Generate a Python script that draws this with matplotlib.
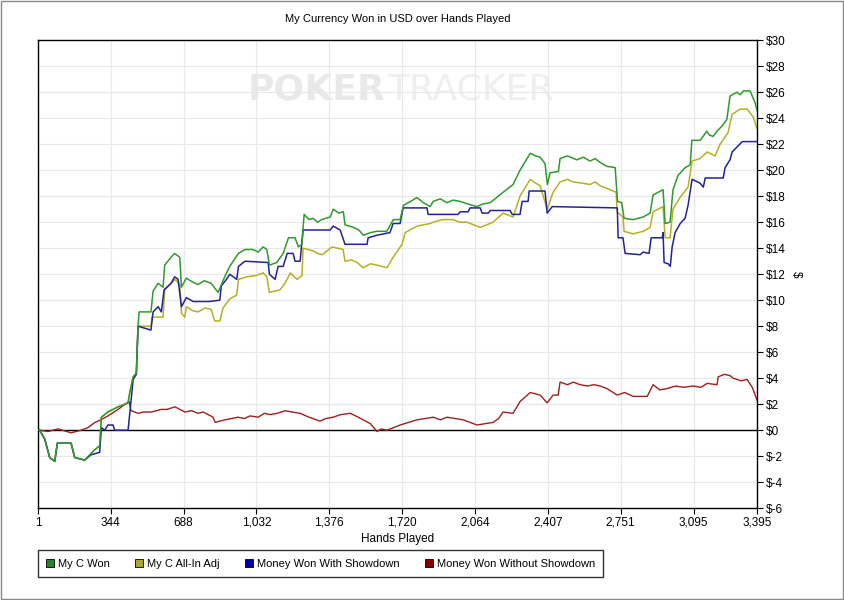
import matplotlib
matplotlib.use("Agg")
import matplotlib.pyplot as plt
from matplotlib.patches import Patch, Rectangle
from matplotlib.ticker import FuncFormatter

# hands / dollars
won_x = [1, 9, 33, 56, 80, 92, 157, 174, 221, 269, 292, 300, 331, 379, 426, 434, 450, 465, 473, 478,
         534, 544, 568, 591, 599, 629, 646, 670, 678, 701, 730, 756, 785, 818, 851, 882, 906, 947, 978, 1016,
         1040, 1063, 1081, 1093, 1128, 1158, 1183, 1214, 1230, 1246, 1257, 1280, 1299, 1320, 1340, 1380, 1395, 1420, 1442,
         1450, 1490, 1515, 1537, 1570, 1600, 1647, 1678, 1710, 1726, 1760, 1789, 1820, 1852, 1866, 1900, 1930, 1960,
         1993, 2030, 2072, 2100, 2135,
         2196, 2243, 2276, 2324, 2350, 2371, 2394, 2405, 2418, 2457, 2465, 2500, 2544, 2575, 2607, 2630, 2654, 2685, 2725,
         2736, 2756, 2767, 2810, 2857, 2890, 2904, 2928, 2951, 2961, 2984, 2998, 3022, 3055, 3079,
         3087, 3126, 3140, 3157, 3170, 3187, 3211, 3230, 3252, 3267, 3299, 3315, 3330, 3362, 3385, 3395]
won_y = [0.0, 0.0, -0.7, -2.1, -2.4, -1.0, -1.0, -2.1, -2.3, -1.5, -1.2, 1.0, 1.4, 1.8, 2.1, 2.9, 4.1, 4.4, 8.0, 9.1,
         9.1, 10.7, 11.3, 11.0, 12.7, 13.3, 13.6, 13.3, 11.0, 11.7, 11.4, 11.2, 11.5, 11.3, 10.6, 11.8, 12.6, 13.6, 13.9, 13.9,
         13.7, 14.1, 13.9, 12.7, 12.9, 13.6, 14.8, 14.8, 14.1, 14.3, 16.6, 16.2, 16.3, 16.0, 16.2, 16.4, 17.0, 16.7, 16.8,
         15.8, 15.6, 15.4, 15.0, 15.2, 15.3, 15.3, 16.2, 16.2, 17.3, 17.6, 17.9, 17.5, 17.2, 17.6, 17.8, 17.5, 17.7,
         17.6, 17.4, 17.2, 17.4, 17.5,
         18.3, 18.9, 20.0, 21.3, 21.1, 21.0, 20.5, 18.9, 19.8, 19.9, 20.9, 21.1, 20.8, 21.0, 20.7, 20.9, 20.6, 20.3, 20.2,
         17.6, 17.5, 16.3, 16.2, 16.4, 16.7, 18.1, 18.3, 18.5, 15.9, 16.0, 18.5, 19.6, 20.2, 20.4,
         22.3, 22.3, 22.6, 23.0, 22.7, 22.6, 23.1, 23.4, 23.9, 25.7, 26.0, 25.8, 26.1, 26.1, 25.2, 24.6]

allin_x = [1, 9, 33, 56, 80, 92, 157, 174, 221, 269, 292, 300, 331, 379, 426, 434, 450, 465, 473, 534,
           539, 591, 599, 648, 670, 678, 694, 701, 730, 756, 790, 818, 835, 859, 874, 906, 939, 947, 986, 1030, 1063,
           1081, 1093, 1143, 1167, 1191, 1224, 1247, 1252, 1299, 1320, 1342, 1389, 1441, 1450, 1480, 1507, 1535,
           1570, 1601, 1648, 1677, 1719, 1734, 1790, 1852, 1866, 1910, 1960, 1990, 2026, 2088, 2149, 2196, 2243, 2276,
           2324, 2350, 2371, 2404, 2432, 2465, 2500, 2527, 2570, 2607, 2630, 2654, 2701, 2730, 2734, 2762, 2767, 2810, 2857,
           2890, 2904, 2951, 2961, 2984, 2998, 3031, 3069, 3088, 3126, 3159, 3197, 3220, 3258, 3277,
           3315, 3348, 3376, 3395]
allin_y = [0.0, 0.0, -0.7, -2.1, -2.4, -1.0, -1.0, -2.1, -2.3, -1.5, -1.2, 1.0, 1.4, 1.8, 2.1, 2.9, 4.1, 4.4, 8.0, 8.0,
           8.7, 8.7, 10.8, 11.6, 11.2, 9.0, 8.7, 9.5, 9.2, 9.1, 9.4, 9.3, 8.4, 8.4, 9.4, 10.1, 10.4, 11.6, 11.8, 11.9, 12.1,
           11.8, 10.6, 10.8, 11.3, 12.1, 11.6, 11.9, 14.0, 13.8, 13.6, 13.5, 14.1, 13.9, 13.0, 13.1, 12.9, 12.5,
           12.8, 12.7, 12.5, 13.3, 14.3, 15.2, 15.7, 15.9, 16.0, 16.2, 16.2, 16.0, 16.0, 15.6, 16.0, 16.7, 16.4, 18.0,
           19.3, 19.0, 18.8, 17.0, 18.3, 19.1, 19.3, 19.1, 19.0, 18.9, 19.1, 18.8, 18.5, 18.3, 16.8, 16.4, 15.3, 15.1, 15.3,
           15.6, 16.8, 17.2, 14.8, 14.8, 17.0, 17.9, 18.7, 20.7, 20.9, 21.4, 21.1, 22.0, 22.9, 24.3,
           24.7, 24.7, 24.1, 23.2]

sd_x = [1, 9, 33, 56, 80, 92, 157, 174, 221, 250, 292, 300, 316, 331, 355, 363, 426, 439, 450, 465,
        473, 534, 544, 568, 583, 596, 629, 646, 662, 678, 701, 733, 808, 859, 866, 890, 906, 939,
        947, 978, 1087, 1093, 1120, 1134, 1158, 1177, 1205, 1214, 1238, 1252, 1380, 1394, 1427,
        1450, 1554, 1559, 1601, 1662, 1677, 1710, 1724, 1837, 1842, 1984, 1993, 2031, 2040, 2088,
        2097, 2126, 2135, 2229, 2239, 2276, 2286, 2314, 2319, 2394, 2404, 2428, 2735, 2739, 2762,
        2772, 2843, 2857, 2885, 2895, 2947, 2951, 2956, 2975, 2985, 2994, 3008, 3032, 3055, 3069,
        3088, 3126, 3141, 3150, 3235, 3244, 3267, 3277, 3301, 3325, 3395]
sd_y = [0.0, 0.0, -0.7, -2.1, -2.4, -1.0, -1.0, -2.1, -2.3, -1.9, -1.7, 0.2, 0.0, 0.4, 0.4, 0.0, 0.0, 2.1, 3.9, 4.3,
        8.0, 7.7, 9.1, 9.5, 9.1, 10.8, 11.3, 11.8, 11.6, 9.5, 10.2, 9.9, 9.9, 10.0, 11.1, 11.6, 12.0, 11.6,
        12.6, 13.0, 12.9, 12.0, 11.6, 12.6, 12.6, 13.6, 13.6, 13.0, 13.0, 15.4, 15.4, 15.7, 15.4,
        14.3, 14.3, 14.8, 15.0, 15.2, 15.9, 15.9, 17.1, 17.1, 16.6, 16.6, 16.8, 16.8, 17.1, 17.1,
        16.7, 16.7, 16.9, 16.9, 16.6, 16.6, 17.6, 17.6, 18.4, 18.4, 16.7, 17.2, 17.1, 14.8, 14.8,
        13.6, 13.5, 13.7, 13.6, 14.8, 14.8, 15.2, 12.9, 12.8, 12.6, 14.1, 15.2, 15.9, 16.3, 17.3,
        19.3, 19.0, 18.7, 19.4, 19.4, 20.2, 20.8, 21.4, 21.8, 22.2, 22.2]

nsd_x = [1, 9, 48, 95, 157, 204, 237, 270, 298, 331, 379, 412, 431, 440, 473, 500, 534, 560, 582, 610,
         629, 648, 670, 695, 725, 756, 780, 804, 827, 837, 860, 884, 915, 945, 975, 1002, 1040, 1070,
         1096, 1130, 1167, 1200, 1238, 1280, 1332, 1360, 1394, 1430, 1474, 1500, 1535, 1570, 1601,
         1620, 1648, 1680, 1710, 1750, 1790, 1830, 1866, 1900, 1932, 1970, 2007, 2040, 2073, 2110,
         2149, 2175, 2196, 2243, 2276, 2324, 2371, 2404, 2432, 2456, 2465, 2500, 2527, 2560, 2593,
         2625, 2654, 2687, 2734, 2770, 2810, 2876, 2904, 2935, 2970, 3010, 3046, 3093, 3130, 3159,
         3206, 3211, 3240, 3267, 3282, 3320, 3348, 3372, 3395]
nsd_y = [0.0, 0.0, -0.1, 0.1, -0.2, 0.0, 0.2, 0.6, 0.8, 1.1, 1.6, 2.0, 2.2, 1.5, 1.3, 1.4, 1.4, 1.5, 1.6, 1.6,
         1.7, 1.8, 1.6, 1.4, 1.5, 1.3, 1.4, 1.2, 1.0, 0.6, 0.7, 0.8, 0.9, 1.0, 0.9, 1.1, 1.0, 1.3,
         1.2, 1.3, 1.5, 1.4, 1.3, 1.0, 0.7, 0.9, 1.0, 1.2, 1.3, 1.1, 0.8, 0.5, -0.1,
         0.1, 0.0, 0.2, 0.4, 0.6, 0.8, 0.9, 1.0, 0.8, 1.0, 0.9, 0.8, 0.6, 0.4, 0.5,
         0.6, 0.9, 1.4, 1.3, 2.2, 2.9, 2.7, 2.1, 2.7, 2.7, 3.7, 3.5, 3.7, 3.5, 3.4,
         3.5, 3.4, 3.2, 2.7, 2.9, 2.6, 2.6, 3.5, 3.1, 3.2, 3.4, 3.3, 3.4, 3.3, 3.6,
         3.5, 4.1, 4.3, 4.2, 4.0, 3.8, 3.9, 3.3, 2.3]

x_ticks = [1, 344, 688, 1032, 1376, 1720, 2064, 2407, 2751, 3095, 3395]
y_ticks = list(range(-6, 31, 2))

plt.rcParams['font.family'] = ['Liberation Sans', 'DejaVu Sans']
fig = plt.figure(figsize=(8.45, 6.0), dpi=100)
fig.patches.append(Rectangle((0.001, 0.002), 0.997, 0.996, transform=fig.transFigure,
                             fill=False, edgecolor='#888888', linewidth=1))

ax = fig.add_axes([0.045, 0.153, 0.851, 0.780])

# watermark
ax.text(0.292, 0.895, "POKER", transform=ax.transAxes, fontsize=26, fontweight='bold',
        family='DejaVu Sans', color='#e9e9e9', ha='left', va='center', zorder=0)
ax.text(0.486, 0.895, "TRACKER", transform=ax.transAxes, fontsize=26,
        family='DejaVu Sans', color='#efefef', ha='left', va='center', zorder=0)

ax.plot(won_x, won_y, color='#2f9a2f', linewidth=1.1, zorder=3)
ax.plot(allin_x, allin_y, color='#b5b025', linewidth=1.1, zorder=2)
ax.plot(sd_x, sd_y, color='#22229a', linewidth=1.1, zorder=2.5)
ax.plot(nsd_x, nsd_y, color='#a01e1e', linewidth=1.0, zorder=2)
ax.axhline(0, color='black', linewidth=1.0, zorder=1.5)

ax.set_xlim(1, 3395)
ax.set_ylim(-6, 30)
ax.set_xticks(x_ticks)
ax.set_xticklabels([f"{t:,}" for t in x_ticks], fontsize=8.5)
ax.set_yticks(y_ticks)
ax.yaxis.tick_right()
ax.yaxis.set_label_position('right')
ax.yaxis.set_major_formatter(FuncFormatter(lambda v, p: f"${int(v)}"))
ax.tick_params(axis='y', labelsize=8.5, length=4, pad=2)
ax.tick_params(axis='x', length=4, pad=2)
ax.grid(True, color='#e8e8e8', linewidth=0.8, zorder=0)
ax.set_axisbelow(True)
for s in ax.spines.values():
    s.set_linewidth(1.0)

ax.set_xlabel("Hands Played", fontsize=8.5, labelpad=3)
ax.set_ylabel("$", fontsize=8.5, rotation=270, labelpad=12)
ax.set_title("My Currency Won in USD over Hands Played", fontsize=8, pad=13)

handles = [Patch(facecolor='#208a20', edgecolor='black', linewidth=0.6),
           Patch(facecolor='#a8a830', edgecolor='black', linewidth=0.6),
           Patch(facecolor='#0000a0', edgecolor='black', linewidth=0.6),
           Patch(facecolor='#800000', edgecolor='black', linewidth=0.6)]
labels = ["My C Won", "My C All-In Adj", "Money Won With Showdown", "Money Won Without Showdown"]
leg = fig.legend(handles, labels, ncol=4, loc='upper left', bbox_to_anchor=(0.045, 0.083),
                 fontsize=8, frameon=True, fancybox=False, edgecolor='black',
                 handlelength=0.7, handleheight=0.7, handletextpad=0.35, columnspacing=2.3,
                 borderpad=0.75, borderaxespad=0)
leg.get_frame().set_linewidth(1.0)

fig.savefig("out.png", dpi=100)
